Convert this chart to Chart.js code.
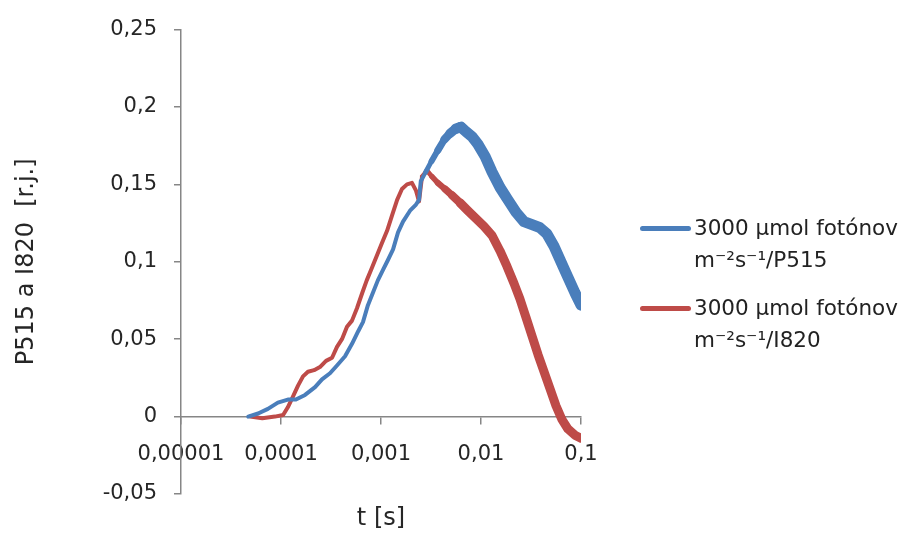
<!DOCTYPE html>
<html>
<head>
<meta charset="utf-8">
<script src="https://cdn.jsdelivr.net/npm/chart.js@4.4.1/dist/chart.umd.min.js"></script>
<style>
    html, body { margin: 0; padding: 0; background: #fff; }
    #wrap { position: relative; width: 909px; height: 536px; }
    #legend { position: absolute; left: 640px; top: 212px; font-family: "DejaVu Sans", sans-serif; font-size: 21.5px; color: #222; }
    .item { position: relative; height: 80px; }
    .swatch { position: absolute; left: 0; top: 14px; width: 51px; height: 5px; border-radius: 3px; }
    .text { position: absolute; left: 54px; top: 0; line-height: 32px; white-space: nowrap; }
</style>
</head>
<body>
<div id="wrap">
    <canvas id="chart"></canvas>
    <div id="legend"></div>
</div>
<script>
// time axis (s), log scale
var xTicks = [0.00001, 0.0001, 0.001, 0.01, 0.1]
var xTickLabels = ["0,00001", "0,0001", "0,001", "0,01", "0,1"]

var labelP515 = ["3000 µmol fotónov", "m⁻²s⁻¹/P515"]
var labelI820 = ["3000 µmol fotónov", "m⁻²s⁻¹/I820"]

var tP515 = [4.7e-5, 5.9e-5, 7.4e-5, 9.3e-5, 1.17e-4, 1.41e-4, 1.74e-4, 2.19e-4, 2.57e-4, 3.09e-4,
    3.63e-4, 4.37e-4, 5.13e-4, 5.9e-4, 6.6e-4, 7.4e-4, 8.3e-4, 9.3e-4, 1.05e-3, 1.17e-3,
    1.32e-3, 1.48e-3, 1.66e-3, 1.95e-3, 2.24e-3, 2.4e-3, 2.5e-3, 2.8e-3, 3.2e-3, 3.7e-3,
    4.3e-3, 4.9e-3, 5.6e-3, 6.3e-3, 7.1e-3, 8.1e-3, 9.3e-3, 0.011, 0.0129, 0.0155,
    0.0186, 0.0224, 0.0269, 0.0324, 0.0389, 0.0457, 0.0537, 0.063, 0.074, 0.087, 0.1]
var yP515 = [0, 0.002, 0.005, 0.009, 0.011, 0.011, 0.014, 0.019, 0.024, 0.028,
    0.033, 0.039, 0.047, 0.055, 0.061, 0.072, 0.08, 0.088, 0.095, 0.101,
    0.108, 0.119, 0.126, 0.133, 0.137, 0.14, 0.152, 0.158, 0.165, 0.172,
    0.179, 0.183, 0.186, 0.187, 0.184, 0.181, 0.176, 0.168, 0.158, 0.148,
    0.14, 0.132, 0.126, 0.124, 0.122, 0.118, 0.11, 0.1, 0.09, 0.08, 0.072]

var tI820 = [4.9e-5, 6.5e-5, 8.7e-5, 1.05e-4, 1.17e-4, 1.32e-4, 1.48e-4, 1.66e-4, 1.86e-4, 2.14e-4,
    2.45e-4, 2.82e-4, 3.24e-4, 3.63e-4, 4.07e-4, 4.57e-4, 5.13e-4, 5.75e-4, 6.5e-4, 7.2e-4,
    8.1e-4, 9.1e-4, 1.02e-3, 1.15e-3, 1.29e-3, 1.45e-3, 1.62e-3, 1.82e-3, 2.04e-3, 2.24e-3,
    2.4e-3, 2.57e-3, 2.88e-3, 3.24e-3, 3.7e-3, 4.37e-3, 5.13e-3, 6.2e-3, 7.4e-3, 8.9e-3,
    0.0107, 0.0129, 0.0155, 0.0182, 0.0214, 0.0245, 0.0282, 0.0324, 0.0372, 0.0427,
    0.049, 0.0562, 0.0646, 0.074, 0.087, 0.1]
var yI820 = [0, -0.001, 0, 0.001, 0.006, 0.013, 0.02, 0.026, 0.029, 0.03,
    0.032, 0.036, 0.038, 0.045, 0.05, 0.058, 0.062, 0.07, 0.08, 0.088,
    0.096, 0.104, 0.112, 0.12, 0.13, 0.14, 0.147, 0.15, 0.151, 0.146,
    0.139, 0.155, 0.159, 0.155, 0.151, 0.147, 0.143, 0.138, 0.133, 0.128,
    0.123, 0.117, 0.107, 0.097, 0.086, 0.076, 0.064, 0.052, 0.04, 0.029,
    0.018, 0.007, -0.002, -0.008, -0.012, -0.014]

function toPoints(t, y) {
    return t.map(function(v, i){ return {x: v, y: y[i]} })
}

// the traces get noisier towards long times, so the line is drawn wider there
function noiseWidth(maxWidth) {
    return function(ctx){
        var t = ctx.p0.parsed.x
        if (t < 2.5e-3) return 4
        var k = Math.min(1, (Math.log10(t) - Math.log10(2.5e-3)) / (Math.log10(6e-3) - Math.log10(2.5e-3)))
        return 4 + k * (maxWidth - 4)
    }
}

var tickFont = { family: "DejaVu Sans", size: 21 }
var titleFont = { family: "DejaVu Sans", size: 24 }

var ctx = document.getElementById('chart')
var myChart = new Chart(ctx, {
    type: 'line',
    data: {
        datasets: [{
            label: labelP515,
            data: toPoints(tP515, yP515),
            borderColor: '#4A7EBB',
            borderWidth: 4,
            borderCapStyle: 'round',
            borderJoinStyle: 'round',
            pointRadius: 0,
            tension: 0,
            segment: { borderWidth: noiseWidth(11) }
        }, {
            label: labelI820,
            data: toPoints(tI820, yI820),
            borderColor: '#BE4B48',
            borderWidth: 4,
            borderCapStyle: 'round',
            borderJoinStyle: 'round',
            pointRadius: 0,
            tension: 0,
            segment: { borderWidth: noiseWidth(9) }
        }]
    },
    options: {
        responsive: true,
        maintainAspectRatio: false,
        animation: false,
        layout: { padding: { left: 0, right: 328, top: 24, bottom: 42 } },
        plugins: {
            legend: { display: false },
            tooltip: { enabled: false }
        },
        scales: {
            x: {
                type: 'logarithmic',
                position: { y: 0 },
                min: 0.00001,
                max: 0.1,
                afterBuildTicks: function(scale){
                    scale.ticks = xTicks.map(function(v){ return {value: v} })
                },
                ticks: {
                    font: tickFont,
                    color: '#262626',
                    padding: 18,
                    maxRotation: 0,
                    autoSkip: false,
                    callback: function(value, index){ return xTickLabels[index] }
                },
                grid: { drawOnChartArea: false, drawTicks: true, tickLength: 7, color: '#868686', lineWidth: 1.5 },
                border: { display: true, color: '#868686', width: 1.5 },
                title: { display: true, text: 't [s]', font: titleFont, color: '#262626', padding: { top: 20, bottom: 0 } }
            },
            y: {
                min: -0.05,
                max: 0.25,
                afterFit: function(scale){ scale.width = 181 },
                ticks: {
                    stepSize: 0.05,
                    font: tickFont,
                    color: '#262626',
                    padding: 17,
                    callback: function(value){
                        return (+value.toFixed(2)).toString().replace('.', ',')
                    }
                },
                grid: { drawOnChartArea: false, drawTicks: true, tickLength: 7, color: '#868686', lineWidth: 1.5 },
                border: { display: true, color: '#868686', width: 1.5 },
                title: { display: true, text: 'P515 a I820  [r.j.]', font: titleFont, color: '#262626', padding: { top: 12, bottom: 0 } }
            }
        }
    }
})

// legend beside the plot, two lines per entry
var legend = document.getElementById('legend')
myChart.data.datasets.forEach(function(ds){
    var item = document.createElement('div')
    item.className = 'item'
    var sw = document.createElement('div')
    sw.className = 'swatch'
    sw.style.background = ds.borderColor
    var txt = document.createElement('div')
    txt.className = 'text'
    txt.innerHTML = ds.label.join('<br>')
    item.appendChild(sw)
    item.appendChild(txt)
    legend.appendChild(item)
})
</script>
</body>
</html>
